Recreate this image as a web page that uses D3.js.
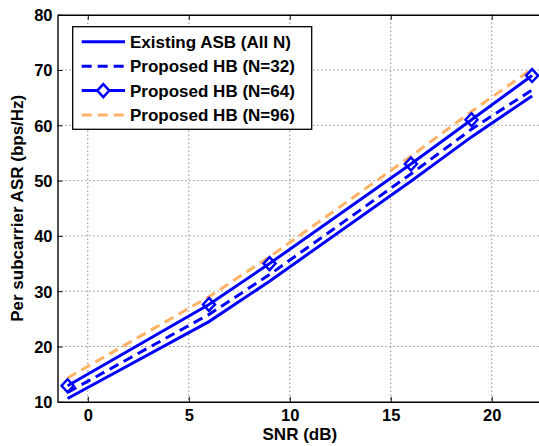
<!DOCTYPE html>
<html>
<head>
    <meta charset="utf-8">
    <style>
        body {
            margin: 0;
            background: white;
        }

        svg {
            display: block;
            font-family: 'Liberation Sans', Arial, sans-serif;
            font-weight: bold;
        }

        .grid line {
            stroke: #555;
            stroke-width: 1;
            stroke-dasharray: 1, 3;
        }
    </style>
</head>

<body>
    <svg width="539" height="446"></svg>
</body>

<script src="https://d3js.org/d3.v7.min.js"></script>

<script>
    // SNR points (dB)
    let snr = [-1, 6, 9, 16, 19, 22]

    // per subcarrier ASR values
    let existingASB = [10.6, 24.5, 31.8, 49.9, 57.9, 65.3]
    let hbN32 = [11.7, 25.8, 33.0, 51.2, 59.3, 66.4]
    let hbN64 = [12.9, 27.6, 35.0, 53.0, 61.0, 69.0]
    let hbN96 = [14.3, 29.0, 36.2, 54.4, 62.5, 70.2]

    let xTicks = [0, 5, 10, 15, 20]
    let yTicks = [10, 20, 30, 40, 50, 60, 70, 80]

    let seriesNames = ["Existing ASB (All N)", "Proposed HB (N=32)", "Proposed HB (N=64)", "Proposed HB (N=96)"]

    let series = [
        { name: seriesNames[0], values: existingASB, color: "#0000ff", dash: null, marker: false },
        { name: seriesNames[1], values: hbN32, color: "#0000ff", dash: "10,6", marker: false },
        { name: seriesNames[2], values: hbN64, color: "#0000ff", dash: null, marker: true },
        { name: seriesNames[3], values: hbN96, color: "#ffb266", dash: "10,6", marker: false }
    ]

    let plotLeft = 57.5, plotTop = 14.7, plotRight = 542.2, plotBottom = 401.8

    let svg = d3.select("svg")

    let x = d3.scaleLinear().domain([-1.5, 22.5]).range([plotLeft, plotRight])
    let y = d3.scaleLinear().domain([10, 80]).range([plotBottom, plotTop])

    svg.append("clipPath")
        .attr("id", "plot-clip")
        .append("rect")
        .attr("x", plotLeft)
        .attr("y", plotTop)
        .attr("width", plotRight - plotLeft)
        .attr("height", plotBottom - plotTop)

    // dotted grid
    let grid = svg.append("g").attr("class", "grid")
    grid.selectAll(".vg")
        .data(xTicks)
        .join("line")
        .attr("x1", d => x(d))
        .attr("x2", d => x(d))
        .attr("y1", plotTop)
        .attr("y2", plotBottom)
    grid.selectAll(".hg")
        .data(yTicks.filter(d => d > 10 && d < 80))
        .join("line")
        .attr("x1", plotLeft)
        .attr("x2", plotRight)
        .attr("y1", d => y(d))
        .attr("y2", d => y(d))

    // axes, ticks pointing inward like matlab
    let xAxis = svg.append("g")
        .attr("transform", "translate(0," + plotBottom + ")")
        .call(d3.axisBottom(x).tickValues(xTicks).tickSizeInner(-5).tickSizeOuter(0).tickPadding(7))
    let xTop = svg.append("g")
        .attr("transform", "translate(0," + plotTop + ")")
        .call(d3.axisTop(x).tickValues(xTicks).tickSizeInner(-5).tickSizeOuter(0).tickFormat(""))
    let yAxis = svg.append("g")
        .attr("transform", "translate(" + plotLeft + ",0)")
        .call(d3.axisLeft(y).tickValues(yTicks).tickSizeInner(-5).tickSizeOuter(0).tickPadding(5))

    svg.selectAll(".domain").style("stroke", "black").style("stroke-width", 1.4)
    svg.selectAll(".tick line").style("stroke", "black").style("stroke-width", 1)
    svg.selectAll(".tick text")
        .style("font-size", "16.5px")
        .style("font-family", "'Liberation Sans', Arial, sans-serif")
        .style("font-weight", "bold")
        .style("fill", "black")
    yAxis.selectAll(".tick text").attr("dy", "0.36em")

    // axis labels
    svg.append("text")
        .attr("x", (plotLeft + plotRight) / 2)
        .attr("y", 440)
        .attr("text-anchor", "middle")
        .style("font-size", "17px")
        .text("SNR (dB)")

    svg.append("text")
        .attr("transform", "translate(23," + ((plotTop + plotBottom) / 2) + ") rotate(-90)")
        .attr("text-anchor", "middle")
        .style("font-size", "17px")
        .text("Per subcarrier ASR (bps/Hz)")

    // lines
    let line = d3.line()
        .x((d, i) => x(snr[i]))
        .y(d => y(d))

    let plot = svg.append("g").attr("clip-path", "url(#plot-clip)")

    plot.selectAll(".series")
        .data(series)
        .join("path")
        .attr("d", d => line(d.values))
        .style("fill", "none")
        .style("stroke", d => d.color)
        .style("stroke-width", 3)
        .style("stroke-dasharray", d => d.dash)

    let diamond = "M0,-6.5L6,0L0,6.5L-6,0Z"

    series.filter(d => d.marker).forEach(s => {
        plot.selectAll(null)
            .data(s.values)
            .join("path")
            .attr("transform", (d, i) => "translate(" + x(snr[i]) + "," + y(d) + ")")
            .attr("d", diamond)
            .style("fill", "none")
            .style("stroke", s.color)
            .style("stroke-width", 2.5)
    })

    // legend
    let legend = svg.append("g")
    legend.append("rect")
        .attr("x", 72.7)
        .attr("y", 26.7)
        .attr("width", 239)
        .attr("height", 102.6)
        .style("fill", "white")
        .style("stroke", "black")
        .style("stroke-width", 1.3)

    let rows = legend.selectAll(".row")
        .data(series)
        .join("g")
        .attr("transform", (d, i) => "translate(0," + (41.7 + i * 24.45) + ")")

    rows.append("line")
        .attr("x1", 81.7)
        .attr("x2", 125)
        .style("stroke", d => d.color)
        .style("stroke-width", 3)
        .style("stroke-dasharray", d => d.dash)

    rows.filter(d => d.marker)
        .append("path")
        .attr("transform", "translate(103.3,0)")
        .attr("d", diamond)
        .style("fill", "white")
        .style("stroke", d => d.color)
        .style("stroke-width", 2.5)

    rows.append("text")
        .attr("x", 130)
        .attr("dy", "0.36em")
        .style("font-size", "17px")
        .text(d => d.name)
</script>
</html>
